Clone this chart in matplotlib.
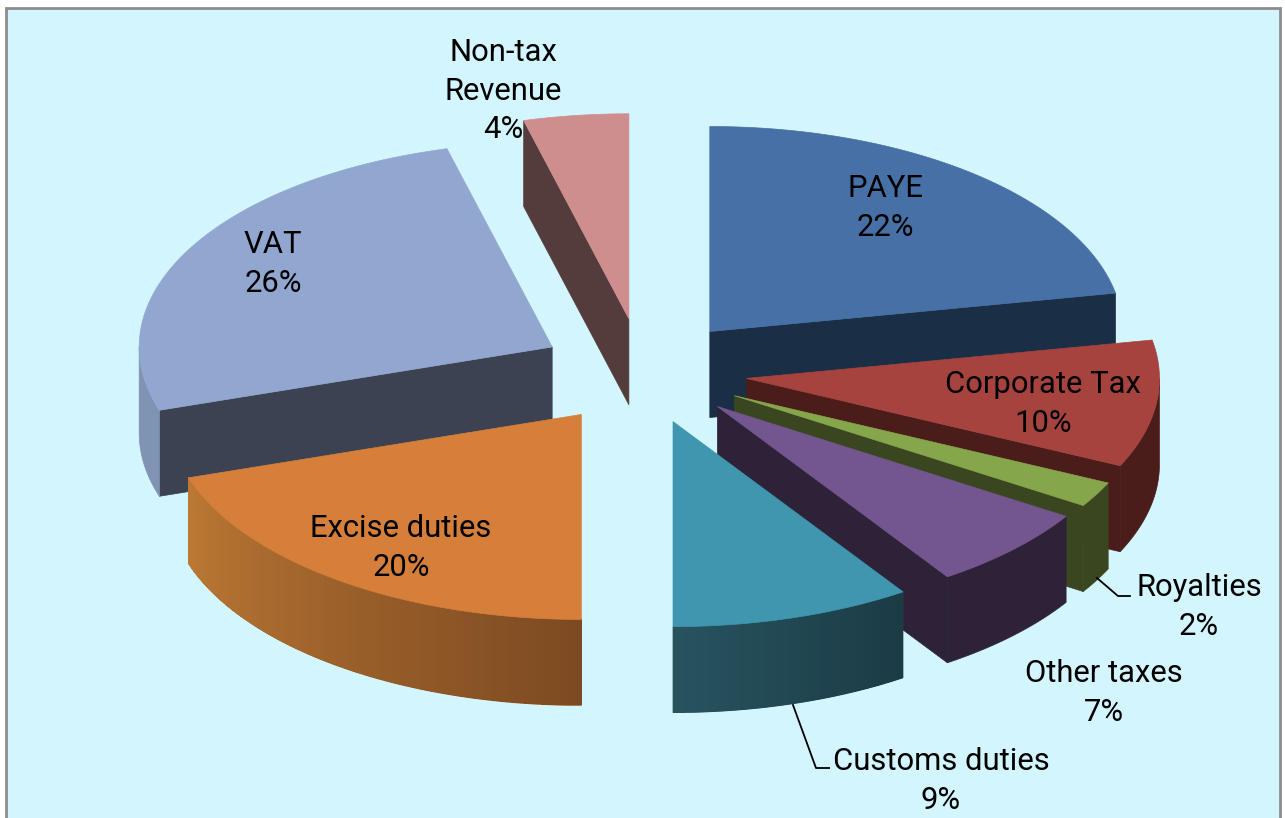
import numpy as np
import matplotlib
matplotlib.use("Agg")
import matplotlib.pyplot as plt
from matplotlib.collections import PolyCollection
from matplotlib.colors import to_rgb
from matplotlib.patches import Polygon, Rectangle

labels = ["PAYE", "Corporate Tax", "Royalties", "Other taxes", "Customs duties",
          "Excise duties", "VAT", "Non-tax\nRevenue"]
shares = [22.0, 10.0, 2.0, 6.6, 9.4, 20.0, 25.9, 4.1]

top_colors = ["#4670a6", "#a6433f", "#86a64b", "#735590", "#4096ae", "#d67f3b", "#92a7cf", "#cf8e8e"]
wall_colors = ["#1a2e46", "#4a1d1a", "#3a461f", "#2d2238", "#1b3b45", "#7c4a22", "#3c4252", "#553c3c"]
rim_start = ["#1a2e46", "#4a1d1a", "#3a461f", "#2d2238", "#1b3b45", "#7c4a22", "#7f93b3", "#553c3c"]
rim_end = ["#1a2e46", "#4a1d1a", "#3a461f", "#2d2238", "#27535f", "#bc7834", "#7f93b3", "#553c3c"]
explode = [0.25, 0.25, 0.25, 0.255, 0.258, 0.25, 0.245, 0.247]
nudge_x = [2, 2, 2, 0, 0, 0, -1, 0]
nudge_y = [1, 2, 1, 0, 1, 3, 1, -1]
draw_order = [7, 6, 0, 1, 2, 3, 4, 5]
label_pos = [(885, 208), (1043, 404), (1199, 607), (1104, 693), (941, 781),
             (401, 548), (273, 264), (503, 91)]

# pie geometry in pixels
cx, cy = 642, 370
rx, ry = 413, 205
depth = 86


def project(angle, ox, oy, radius=1.0):
    t = np.radians(angle)
    return ox + radius * rx * np.sin(t), oy - radius * ry * np.cos(t)


def draw_slice(ax, start, end, i):
    mid = (start + end) / 2
    ox, oy = project(mid, cx, cy, explode[i])
    ox = ox + nudge_x[i]
    oy = oy + nudge_y[i]
    angles = np.linspace(start, end, 100)
    xs, ys = project(angles, ox, oy)

    # radial walls, only the ones that face the viewer
    for a, show in ((start, 180 < start < 360), (end, 0 < end < 180)):
        if show:
            x1, y1 = project(a, ox, oy)
            wall = [(ox, oy), (x1, y1), (x1, y1 + depth), (ox, oy + depth)]
            ax.add_patch(Polygon(wall, fc=wall_colors[i], ec=wall_colors[i], lw=0.5))

    # outer rim, split in strips for the shading
    lo, hi = max(start, 90), min(end, 270)
    if hi > lo:
        rim_angles = np.linspace(lo, hi, 70)
        px, py = project(rim_angles, ox, oy)
        outline = list(zip(px, py)) + list(zip(px[::-1], py[::-1] + depth))
        c0, c1 = np.array(to_rgb(rim_start[i])), np.array(to_rgb(rim_end[i]))
        base = (c0 + c1) / 2
        ax.add_patch(Polygon(outline, fc=base, ec=base, lw=0.5))
        if rim_start[i] != rim_end[i]:
            polys, colors = [], []
            for k in range(len(rim_angles) - 1):
                polys.append([(px[k], py[k]), (px[k + 1], py[k + 1]),
                              (px[k + 1], py[k + 1] + depth - 0.5), (px[k], py[k] + depth - 0.5)])
                f = k / (len(rim_angles) - 2)
                colors.append(c0 + (c1 - c0) * f)
            ax.add_collection(PolyCollection(polys, facecolors=colors, edgecolors="none",
                                             antialiaseds=False))

    top = [(ox, oy)] + list(zip(xs, ys))
    ax.add_patch(Polygon(top, fc=top_colors[i], ec=top_colors[i], lw=0.5))


fig = plt.figure(figsize=(12.85, 8.18), dpi=100, facecolor="white")
ax = fig.add_axes([0, 0, 1, 1])
ax.set_xlim(0, 1285)
ax.set_ylim(818, 0)
ax.axis("off")

ax.add_patch(Rectangle((6, 8), 1274, 830, fc="#d3f5fd", ec="#8c8c8c", lw=2))

edges = np.concatenate([[0], np.cumsum(shares)]) / np.sum(shares) * 360
for i in draw_order:
    draw_slice(ax, edges[i], edges[i + 1], i)

# leader lines
ax.plot([1097, 1118, 1130], [578, 596, 596], color="black", lw=1.3)
ax.plot([793, 816, 829], [705, 768, 768], color="black", lw=1.3)

for name, val, (x, y) in zip(labels, shares, label_pos):
    ax.text(x, y, f"{name}\n{round(val)}%", ha="center", va="center", fontsize=22.3,
            family="Roboto", linespacing=1.42, color="black", clip_on=False)

fig.savefig("out.png", dpi=100)
